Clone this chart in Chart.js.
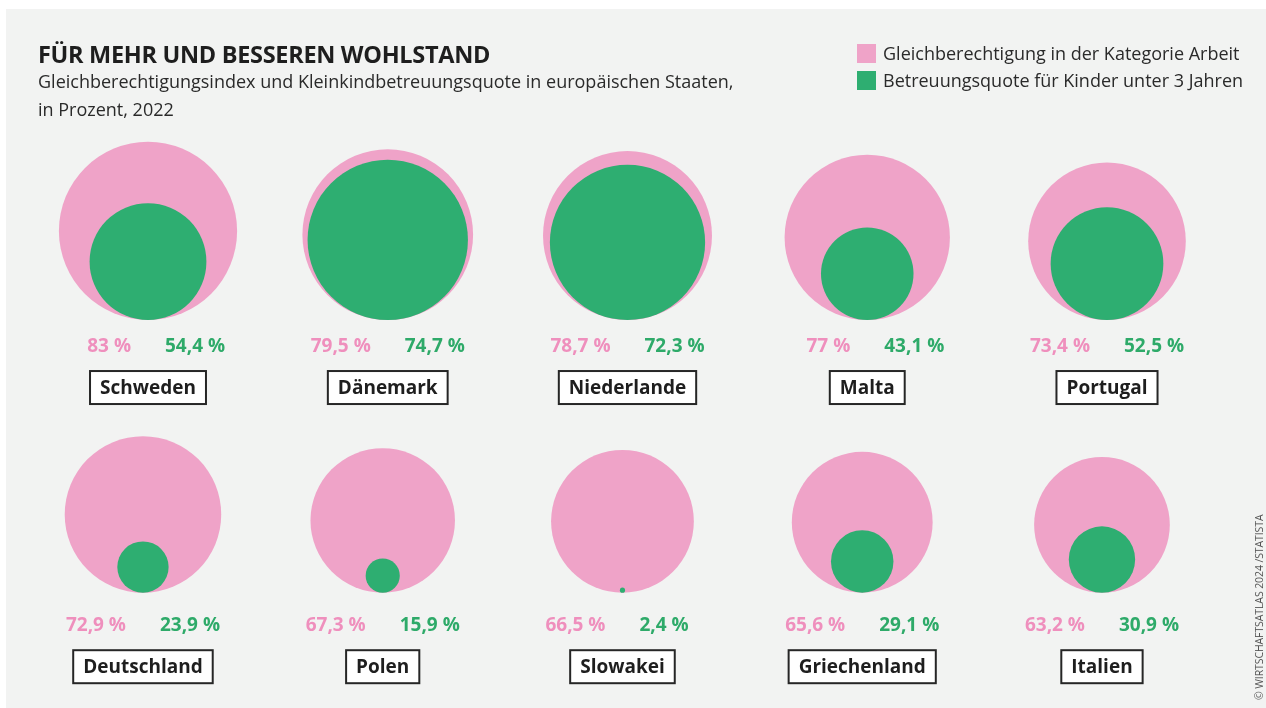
<!DOCTYPE html>
<html lang="de">
<head>
<meta charset="utf-8">
<title>Für mehr und besseren Wohlstand</title>
<script src="https://cdn.jsdelivr.net/npm/chart.js@4.4.1/dist/chart.umd.min.js"></script>
<style>
  html, body { margin: 0; padding: 0; background: #fff; }
  body { width: 1266px; height: 708px; position: relative; overflow: hidden;
         font-family: "Open Sans", sans-serif; color: #222; }
  #panel { position: absolute; left: 6px; top: 9px; right: 0; bottom: 0; background: #f2f3f2; }
  #chart { position: absolute; left: 0; top: 0; }
  h1 { position: absolute; left: 38px; top: 42px; margin: 0; font-size: 23.5px; line-height: 24px;
       font-weight: 700; color: #1e1e1e; letter-spacing: -0.3px; }
  .sub { position: absolute; left: 38px; top: 67px; margin: 0; font-size: 18px; line-height: 28px; color: #2a2a2a; }
  .legend { position: absolute; left: 857px; top: 40px; font-size: 18px; line-height: 27px; color: #2a2a2a; }
  .legend div { display: flex; align-items: center; }
  .legend span.box { width: 19px; height: 19px; margin-right: 7px; display: inline-block; }
  .credit { position: absolute; left: 1259px; top: 700px; transform-origin: 0 0; transform: rotate(-90deg) translateY(-50%);
            font-size: 10.5px; color: #555; white-space: nowrap; letter-spacing: -0.1px; }
</style>
</head>
<body>
<div id="panel"></div>
<canvas id="chart" width="1266" height="708"></canvas>
<h1>FÜR MEHR UND BESSEREN WOHLSTAND</h1>
<p class="sub">Gleichberechtigungsindex und Kleinkindbetreuungsquote in europäischen Staaten,<br>in Prozent, 2022</p>
<div class="legend">
  <div><span class="box" style="background:#efa3c8"></span>Gleichberechtigung in der Kategorie Arbeit</div>
  <div><span class="box" style="background:#2eae71"></span>Betreuungsquote für Kinder unter 3 Jahren</div>
</div>
<div class="credit">© WIRTSCHAFTSATLAS 2024 /STATISTA</div>

<script>
// Länder und Werte (Prozent)
const countries = ["Schweden", "Dänemark", "Niederlande", "Malta", "Portugal",
                   "Deutschland", "Polen", "Slowakei", "Griechenland", "Italien"];
const equalityIndex = [83, 79.5, 78.7, 77, 73.4, 72.9, 67.3, 66.5, 65.6, 63.2];
const childcareRate = [54.4, 74.7, 72.3, 43.1, 52.5, 23.9, 15.9, 2.4, 29.1, 30.9];

// Raster: 5 Spalten, 2 Reihen
const perRow = 5;
const rowBottom = [180.7, 53.7];   // Unterkante der Kreise (y-Einheiten = Prozent Durchmesser)
const rowShift = [0, -0.021];      // leichte Verschiebung der zweiten Reihe
const valueOffset = [26.5, 33];    // Abstand Prozentzahlen unter den Kreisen (px)
const boxOffset = [67.5, 74];      // Abstand Ländername unter den Kreisen (px)

const pinkFill = "#efa3c8";
const greenFill = "#2eae71";
const pinkText = "#ef8fbd";
const greenText = "#2eaa69";
const FONT = "'Open Sans', sans-serif";

function cell(i) {
  const row = Math.floor(i / perRow);
  return { row: row, x: (i % perRow) + rowShift[row] };
}

// Kreise sitzen auf der gemeinsamen Unterkante ihrer Reihe
function toPoints(values) {
  return values.map((v, i) => {
    const c = cell(i);
    return { x: c.x, y: rowBottom[c.row] + v / 2, v: v };
  });
}

// Radius aus der y-Skala: Durchmesser = Wert
function radiusFromScale(ctx) {
  if (!ctx.raw) return 0;
  const y = ctx.chart.scales.y;
  const r = Math.abs(y.getPixelForValue(0) - y.getPixelForValue(ctx.raw.v / 2));
  return isFinite(r) ? r : 0;
}

function fmt(v) {
  return String(v).replace(".", ",") + " %";
}

const labelPlugin = {
  id: "countryLabels",
  afterDatasetsDraw(chart) {
    const { ctx, scales: { x, y } } = chart;
    ctx.save();
    countries.forEach((name, i) => {
      const c = cell(i);
      const cx = x.getPixelForValue(c.x);
      const base = y.getPixelForValue(rowBottom[c.row]);

      // Prozentwerte links (rosa) und rechts (grün) der Mitte
      ctx.font = "700 19px " + FONT;
      ctx.textBaseline = "middle";
      ctx.textAlign = "right";
      ctx.fillStyle = pinkText;
      ctx.fillText(fmt(equalityIndex[i]), cx - 17, base + valueOffset[c.row]);
      ctx.textAlign = "left";
      ctx.fillStyle = greenText;
      ctx.fillText(fmt(childcareRate[i]), cx + 17, base + valueOffset[c.row]);

      // Ländername im Kasten
      ctx.textAlign = "center";
      const w = ctx.measureText(name).width + 20;
      const h = 33;
      const by = base + boxOffset[c.row];
      ctx.fillStyle = "#fff";
      ctx.fillRect(cx - w / 2, by - h / 2, w, h);
      ctx.lineWidth = 2;
      ctx.strokeStyle = "#262626";
      ctx.strokeRect(cx - w / 2, by - h / 2, w, h);
      ctx.fillStyle = "#1e1e1e";
      ctx.fillText(name, cx, by + 1);
    });
    ctx.restore();
  }
};

const pxPerUnitX = 239.75;
const pxPerUnitY = 2.147;

new Chart(document.getElementById("chart"), {
  type: "scatter",
  data: {
    datasets: [
      {
        label: "Gleichberechtigung in der Kategorie Arbeit",
        data: toPoints(equalityIndex),
        pointBackgroundColor: pinkFill,
        pointBorderWidth: 0,
        pointRadius: radiusFromScale,
        order: 2,   // unten
        clip: false
      },
      {
        label: "Betreuungsquote für Kinder unter 3 Jahren",
        data: toPoints(childcareRate),
        pointBackgroundColor: greenFill,
        pointBorderWidth: 0,
        pointRadius: radiusFromScale,
        order: 1,   // oben
        clip: false
      }
    ]
  },
  options: {
    responsive: false,
    animation: false,
    events: [],
    layout: { padding: 0 },
    plugins: { legend: { display: false }, tooltip: { enabled: false } },
    scales: {
      x: { type: "linear", display: false, min: -148 / pxPerUnitX, max: (1266 - 148) / pxPerUnitX },
      y: { type: "linear", display: false, min: 0, max: 708 / pxPerUnitY }
    }
  },
  plugins: [labelPlugin]
});
</script>
</body>
</html>
